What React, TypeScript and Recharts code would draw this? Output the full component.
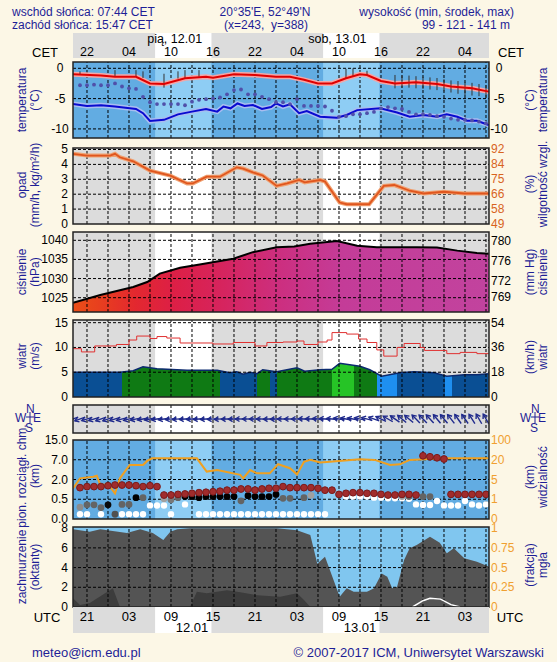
import React from 'react';
import { ComposedChart, Line, Area, Scatter, XAxis, YAxis, ReferenceArea, ReferenceLine, ErrorBar } from 'recharts';

// time axis: hours counted from 19:00 UTC 11.01
const H_MAX = 59.43;
const GRID_H = [2, 5, 8, 11, 14, 17, 20, 23, 26, 29, 32, 35, 38, 41, 44, 47, 50, 53, 56, 59];
const LABEL_H = [2, 8, 14, 20, 26, 32, 38, 44, 50, 56];
const CET_LABELS = ['22', '04', '10', '16', '22', '04', '10', '16', '22', '04'];
const UTC_LABELS = ['21', '03', '09', '15', '21', '03', '09', '15', '21', '03'];
const DAY_START = [11.73, 35.73];
const DAY_END = [19.78, 43.78];
const CET_DATES = ['pią, 12.01', 'sob, 13.01'];
const CET_DATE_H = [10.6, 33.6];
const UTC_DATES = ['12.01', '13.01'];
const UTC_DATE_H = [17, 41];

// temperatura
const tempH = [0, 4, 6, 9, 11, 13, 16, 19, 20, 23, 26, 29, 31, 33, 35, 37, 39, 41, 42, 44, 46, 49, 52, 54, 57, 59.4];
const tempV = [-1.0, -1.2, -1.4, -1.4, -2.5, -2.6, -1.65, -1.4, -1.55, -1.0, -1.1, -1.4, -1.4, -1.9, -2.5, -2.5, -1.65, -1.0, -1.1, -2.1, -2.5, -2.3, -2.6, -3.0, -3.3, -3.85];
const spreadH = [1, 6, 9, 10, 13, 15, 16, 18, 39, 40, 42, 46, 47, 48, 49, 50, 51, 52, 53, 54, 55, 56, 57, 58, 59];
const spreadLo = [-1.1, -1.4, -1.4, -1.6, -3.2, -1.7, -1.7, -1.4, -1.7, -1.3, -1.2, -3.3, -3.2, -3.2, -3.3, -3.4, -3.5, -3.6, -3.8, -4.0, -4.2, -4.4, -4.5, -4.6, -4.8];
const spreadHi = [-0.5, -0.3, -0.3, -0.5, -0.9, -0.5, -0.3, -0.3, -0.1, 0.0, -0.4, -1.1, -1.2, -1.2, -1.3, -1.4, -1.5, -1.6, -1.8, -2.0, -2.1, -2.3, -2.4, -2.6, -2.8];
const chillH = [0, 2, 4, 6, 9, 10, 11, 13, 15, 17, 19, 20.6, 21.5, 22.5, 23.5, 24.5, 25.7, 27, 28.3, 29, 30, 31, 32.3, 33.4, 35.3, 37.7, 39.1, 40.6, 43.9, 46.3, 48.1, 50.1, 52, 53.4, 54.9, 56.3, 57.7, 59.4];
const chillV = [-5.9, -6.2, -6.1, -6.3, -6.7, -7.4, -8.7, -8.5, -7.6, -7.15, -6.7, -7.15, -6.3, -6.6, -5.8, -6.2, -6.05, -6.7, -6.4, -5.8, -6.3, -5.95, -7.4, -7.05, -8.0, -8.15, -7.7, -6.9, -6.6, -7.3, -8.0, -7.7, -8.0, -7.6, -8.0, -8.65, -8.65, -9.35];
// hourly, h = 1..59
const dewV = [-2.8, -2.8, -2.7, -2.8, -2.8, -2.5, -3.0, -3.3, -3.4, -4.7, -5.6, -5.9, -5.9, -5.9, -5.9, -6.1, -5.5, -5.2, -5.1, -5.0, -4.8, -4.3, -3.6, -3.5, -4.3, -4.3, -4.7, -5.1, -5.6, -5.6, -5.9, -5.1, -6.2, -6.2, -6.2, -6.3, -7.0, -8.0, -7.9, -7.6, -7.6, -7.4, -7.2, -6.6, -6.4, -6.6, -6.7, -7.2, -7.6, -7.6, -7.7, -7.9, -8.0, -8.3, -8.5, -8.5, -8.6, -8.8, -9.1];

// wilgotnosc
const humH = [0, 2, 5.3, 6, 6.7, 8.6, 11, 13.9, 16.3, 17.1, 19.1, 21, 23.4, 24.3, 25.7, 27.1, 29.1, 30.6, 32.3, 33.1, 35.3, 36, 38.1, 39.1, 42.3, 44.4, 45.9, 48.1, 50.1, 53, 55.9, 59.4];
const humV = [89.5, 88.5, 88.5, 89.5, 87.5, 85.2, 79.8, 76.9, 72.4, 72.4, 76.3, 76.3, 81.7, 81, 78.8, 77, 71, 72.4, 74.4, 73, 74.4, 73.5, 61.4, 60.4, 60.4, 71, 71.5, 68.2, 66.6, 67.6, 66.6, 66.6];
const HUM_TICKS = [49, 57.6, 66.2, 74.8, 83.4, 92];
const HUM_LABELS = ['49', '58', '66', '75', '84', '92'];

// cisnienie
const presH = [0, 3.9, 8.6, 10.6, 12.4, 15.3, 18.1, 22.9, 25.7, 29.1, 31.6, 33.9, 37.7, 40.6, 43.4, 49.1, 52, 54.9, 57.7, 59.4];
const presV = [1023.7, 1025.7, 1027.8, 1029.1, 1031.3, 1032.8, 1033.7, 1035.2, 1036.9, 1038.2, 1038.4, 1039.1, 1039.8, 1038.6, 1038.2, 1038.2, 1038.1, 1037.3, 1036.7, 1036.5];
const presStops = [0, 0.06, 0.15, 0.24, 0.36, 0.5, 0.65, 1];
const presColors = ['#ea4f18', '#e8401e', '#e3282f', '#dd1f45', '#d6245e', '#cc2f80', '#c43c98', '#c2439e'];

// wiatr
const windH = [0, 6.7, 8.6, 10, 12, 16.3, 20.6, 22.4, 23.4, 24.3, 25.3, 26.3, 27.1, 29.1, 32, 33.1, 35.3, 37, 38.1, 41, 42.4, 44.1, 46.7, 48.7, 51.6, 53.4, 55.9, 57.7, 59.4];
const windV = [5.0, 5.0, 5.3, 6.1, 5.7, 5.4, 5.4, 4.9, 5.1, 4.6, 5.0, 4.7, 5.5, 5.1, 5.9, 5.2, 5.5, 5.6, 6.8, 6.2, 5.5, 4.2, 4.9, 5.1, 4.9, 4.2, 4.5, 4.5, 4.7];
const windSegH = [0, 7, 21, 26.3, 28.1, 29.1, 37, 40.1, 43.4, 46.3, 53.1, 54.1, 59.4];
const windSegC = ['#0a4f94', '#0f7a14', '#0a4f94', '#0f7a14', '#0a4f94', '#0f7a14', '#26c426', '#0f7a14', '#1e8ff0', '#0a4f94', '#1e8ff0', '#0a4f94'];
const gustH = [0, 1.2, 3.1, 6.2, 8, 9.1, 11, 12, 13.4, 15.3, 20, 22.9, 26, 27.7, 30, 32, 33, 35, 36.3, 37, 39.1, 40.8, 42, 43.4, 44.4, 46.3, 47.3, 49.6, 50.2, 53.4, 55.3, 57.7, 59.4];
const gustV = [9.75, 9.1, 10.3, 10.6, 11.5, 12.3, 11.8, 12.2, 11.9, 10.9, 10.7, 11.0, 10.3, 11.0, 11.1, 11.3, 10.6, 11.1, 11.5, 13.0, 12.7, 11.7, 11.0, 9.5, 8.25, 10.0, 10.8, 10.0, 9.4, 8.75, 9.0, 8.75, 8.75];
// kierunek (skad wieje), h = 0..59
const windDir = [70, 70, 72, 72, 70, 70, 72, 75, 75, 78, 80, 80, 82, 82, 84, 84, 85, 85, 85, 85, 86, 86, 88, 88, 90, 90, 90, 90, 88, 88, 90, 90, 90, 92, 92, 95, 95, 95, 98, 100, 100, 102, 105, 110, 115, 120, 125, 130, 130, 135, 135, 138, 140, 140, 142, 145, 145, 148, 150, 150];

// chmury (km), hourly h = 1..59, null = brak
const CH_BREAKS = [0, 0.5, 2, 7, 15];
const CH_LABELS = ['0.0', '0.5', '2.0', '7.0', '15.0'];
const VIS_BREAKS = [0, 1, 5, 20, 100];
const redCloud = [1.38, 1.46, 1.46, 1.46, 1.53, 1.58, 1.58, 1.58, 1.53, 1.46, 1.53, 1.46,
  0.82, 0.82, 0.87, 0.9, 0.95, 1.0, 1.03, 1.07, 1.11, 1.19, 1.19, 1.28, 1.28, 1.19, 1.28, 1.33, 1.33,
  1.46, 1.38, 1.38, 1.38, 1.38, 1.33, 1.19, 1.19, 0.87, 0.95, 1.0, 1.0, 0.95, 0.95, 0.87, 0.82, 0.82, 0.87, 0.87, 0.82,
  8.6, 8.2, 7.8, 7.3, 0.87, 0.87, 0.87, 0.87, 0.87, 0.87];
const lowCloud = [0.3, 0.36, 0.36, 0.29, 0.36, 0.12, 0.37, 0.37, 0.62, 0.62, null, null, 0.53, 0.49, 0.62, 0.7, 0.7, 0.62, 0.7, 0.7,
  0.7, 0.7, 0.7, 0.46, 0.77, 0.7, 0.7, 0.7, 0.87, 0.57, 0.57, null, 0.62, 0.8, null, null, null, null, null, null,
  null, null, null, null, null, null, 0.7, 0.7, null, 0.7, 0.7, null, null, null, null, null, null, null, null];
const lowShade = [0.3, 0.5, 0.5, 0.5, 0.95, 0.6, 0.5, 0.5, 1, 0.5, 0, 0, 0.2, 0.4, 0.5, 1, 1, 1, 1, 1,
  1, 1, 1, 0.5, 1, 1, 1, 1, 1, 0.5, 0.5, 0, 0.5, 0.2, 0, 0, 0, 0, 0, 0,
  0, 0, 0, 0, 0, 0, 0.2, 0.5, 0, 0.5, 0.5, 0, 0, 0, 0, 0, 0, 0, 0];
const whiteCloud = [0.12, 0.12, null, 0.12, null, null, 0.12, 0.12, 0.12, 0.12, 0.34, 0.34, 0.34, 0.12, null, 0.37, null, 0.12, 0.12, 0.12,
  0.12, 0.12, 0.12, 0.12, 0.12, 0.12, 0.12, 0.12, 0.12, 0.12, 0.12, 0.12, 0.12, 0.12, 0.12, 0.12, null, null, 0.7, 0.7,
  0.7, 0.7, 0.62, 0.62, 0.57, 0.57, 0.57, 0.53, 0.37, 0.355, 0.355, 0.455, 0.34, 0.34, 0.34, 0.455, 0.37, 0.34, 0.37];
const visH = [0, 1, 2.9, 3.4, 3.9, 4.9, 5.3, 6, 6.7, 8.1, 10, 10.6, 11.3, 17.7, 19.1, 20.6, 23.9, 24.3, 25.3, 26.3, 28.1, 29.3, 31, 32, 33, 33.9, 35.3, 36.7, 41, 43.1, 45.3, 46.7, 48.1, 53, 59.4];
const visKm = [3.2, 5.9, 7.1, 7.9, 3.9, 4.0, 3.5, 2.2, 5.9, 16, 16, 19.1, 25.6, 25.6, 11, 12.2, 8.5, 5.9, 12.2, 9.7, 9.7, 16.6, 13.6, 8.9, 18.5, 19.9, 18, 18.5, 21.6, 19.9, 16, 16.5, 19.9, 25.6, 25.6];

// zachmurzenie (oktanty) i mgla
const ccH = [0, 2.4, 3.9, 7.7, 9.6, 11.4, 12.9, 13.9, 14.9, 16.7, 29.1, 32, 33.9, 34.9, 36, 36.7, 38.1, 39.1, 40.1, 42, 43, 44.1, 44.9, 45.6, 46.3, 47.3, 48.1, 49.1, 51, 52.4, 53.4, 54.4, 55.9, 57.7, 59.4];
const ccV = [7.9, 7.65, 7.9, 7.5, 7.9, 7.5, 6.8, 7.65, 7.9, 8.0, 8.0, 7.8, 7.3, 4.4, 5.1, 3.75, 1.05, 1.9, 1.55, 1.55, 1.9, 3.4, 3.08, 1.9, 2.06, 4.77, 5.96, 6.3, 7.14, 6.53, 5.45, 5.96, 4.94, 4.6, 4.1];
const lcH = [0, 1, 2.4, 5.7, 6.7, 16.7, 17.7, 19.1, 22, 23.9, 26.3, 29.6, 32, 33, 33.9, 59.4];
const lcV = [0.9, 0.2, 0.4, 1.9, 0, 0, 1.55, 1.4, 1.7, 1.5, 1.2, 1.05, 1.4, 0.7, 0, 0];
const fogH = [48.5, 50, 51, 52.5, 54, 55.3];
const fogV = [0, 0.08, 0.11, 0.1, 0.03, 0];

const W = 557;
const ML = 33;
const MR = 28;
const PAD = 8;
const FONT = '"Liberation Sans", Arial, sans-serif';
const NAVY = '#1e1e96';
const BORDER = '#222';

const pts = (hs: number[], vs: (number | null)[]) => hs.map((h, i) => ({ h, v: vs[i] }));
const hourly = (vs: (number | null)[]) => vs.map((v, i) => ({ h: i + 1, v })).filter((d) => d.v != null);
const toIdx = (v: number, br: number[]) => {
  for (let i = 0; i < br.length - 1; i++) if (v <= br[i + 1]) return i + (v - br[i]) / (br[i + 1] - br[i]);
  return br.length - 1;
};

const tick = (opts: { x?: number; anchor?: string; color?: string; fmt?: (v: number) => string }) => (p: any) => (
  <text x={opts.x ?? 68} y={p.y} dy={4} textAnchor={opts.anchor ?? 'end'} fontSize={12} fill={opts.color ?? '#000'} fontFamily={FONT}>
    {opts.fmt ? opts.fmt(p.payload.value) : p.payload.value}
  </text>
);

const bg = (night: string, day: string) => [
  <ReferenceArea key="bgn" x1={0} x2={H_MAX} fill={night} fillOpacity={1} stroke="none" zIndex={-300} />,
  ...DAY_START.map((s, i) => (
    <ReferenceArea key={'bgd' + i} x1={s} x2={DAY_END[i]} fill={day} fillOpacity={1} stroke="none" zIndex={-250} />
  )),
];
const frame = () => (
  <ReferenceArea key="frame" x1={0} x2={H_MAX} fill="none" stroke={BORDER} strokeWidth={1.5} zIndex={900} />
);
const grid = (yTicks: number[]) => [
  ...GRID_H.map((h) => <ReferenceLine key={'gx' + h} x={h} stroke="#000" strokeDasharray="3 2" strokeWidth={1} zIndex={150} />),
  ...yTicks.map((v) => <ReferenceLine key={'gy' + v} y={v} stroke="#000" strokeDasharray="3 2" strokeWidth={1} zIndex={150} />),
];
const xAxis = () => <XAxis type="number" dataKey="h" domain={[0, H_MAX]} ticks={GRID_H} hide allowDataOverflow />;

const VText = ({ cx, cy, lines, size = 12 }: { cx: number; cy: number; lines: string[]; size?: number }) => (
  <div
    style={{
      position: 'absolute', left: cx, top: cy, transform: 'translate(-50%, -50%) rotate(-90deg)',
      whiteSpace: 'nowrap', textAlign: 'center', lineHeight: '13px', fontSize: size, color: NAVY, fontFamily: FONT,
    }}
  >
    {lines.map((l) => <div key={l}>{l}</div>)}
  </div>
);

const Txt = ({ x, y, children, anchor = 'start', color = NAVY, size = 12 }: any) => (
  <div
    style={{
      position: 'absolute', left: x, top: y, whiteSpace: 'nowrap', fontSize: size, color, fontFamily: FONT, lineHeight: '11px',
      transform: anchor === 'end' ? 'translate(-100%, -50%)' : anchor === 'middle' ? 'translate(-50%, -50%)' : 'translate(0, -50%)',
    }}
  >
    {children}
  </div>
);

const Compass = ({ x, y }: { x: number; y: number }) => (
  <svg style={{ position: 'absolute', left: x, top: y }} width={36} height={36}>
    <g fill={NAVY} fontFamily={FONT} fontSize={12}>
      <text x={12} y={11}>N</text>
      <text x={1} y={20}>W</text>
      <text x={19} y={20}>E</text>
      <text x={11} y={30}>S</text>
    </g>
    <line x1={12} y1={15} x2={20} y2={15} stroke={NAVY} />
    <line x1={16} y1={10} x2={16} y2={21} stroke={NAVY} />
  </svg>
);

const Arrow = (p: any) => {
  if (p.cx == null) return <g />;
  const a = (p.payload.d * Math.PI) / 180;
  const ux = -Math.sin(a);
  const uy = Math.cos(a);
  const L = 5.5;
  const x1 = p.cx - ux * L, y1 = p.cy - uy * L, x2 = p.cx + ux * L, y2 = p.cy + uy * L;
  const hx = ux * 4, hy = uy * 4, px = -uy * 2.5, py = ux * 2.5;
  return (
    <g stroke="#1f2a8c" strokeWidth={1.4} fill="none">
      <line x1={x1} y1={y1} x2={x2} y2={y2} />
      <polyline points={`${x2 - hx + px},${y2 - hy + py} ${x2},${y2} ${x2 - hx - px},${y2 - hy - py}`} />
    </g>
  );
};

const dot = (r: number, fill: string, stroke = 'none') => (p: any) =>
  p.cx == null ? <g /> : <circle cx={p.cx} cy={p.cy} r={r} fill={fill} stroke={stroke} />;
const shadeDot = (p: any) => {
  if (p.cx == null) return <g />;
  const g = Math.round(200 * (1 - p.payload.s));
  return <circle cx={p.cx} cy={p.cy} r={3.4} fill={`rgb(${g},${g},${g})`} />;
};
const noDot = () => <g />;
const textMark = (size: number) => (p: any) =>
  p.cx == null ? <g /> : (
    <text x={p.cx} y={p.cy} dy="0.35em" textAnchor={p.payload.a} fontSize={size} fill="#000" fontFamily={FONT}>
      {p.payload.t}
    </text>
  );

// pasek czasu: etykiety godzin (v = hourV) i dat (v = dateV) w skali 0..1 pasa
const TimeBand = ({ top, height, labels, hourV, dates, dateH, dateV, dateAnchor, size }: any) => {
  const hourData = LABEL_H.map((h, i) => ({ h, v: hourV, t: labels[i], a: 'middle' }));
  const dateData = dates.map((t: string, i: number) => ({ h: dateH[i], v: dateV, t, a: dateAnchor }));
  return (
    <div style={{ position: 'absolute', left: 0, top: top - PAD }}>
      <ComposedChart width={W} height={height + 2 * PAD} margin={{ top: PAD, bottom: PAD, left: ML + 40, right: MR + 40 }}>
        <XAxis type="number" dataKey="h" domain={[0, H_MAX]} hide allowDataOverflow />
        <YAxis hide domain={[0, 1]} allowDataOverflow />
        {bg('#dcdcdc', '#ffffff')}
        <Scatter data={hourData} dataKey="v" shape={textMark(size)} isAnimationActive={false} />
        <Scatter data={dateData} dataKey="v" shape={textMark(size)} isAnimationActive={false} />
      </ComposedChart>
    </div>
  );
};

export default function App() {
  const presGrad = presStops.map((o, i) => <stop key={i} offset={o} stopColor={presColors[i]} />);
  const span = windH[windH.length - 1] - windH[0];
  const windGrad = windSegC.flatMap((c, i) => [
    <stop key={'a' + i} offset={(windSegH[i] - windH[0]) / span} stopColor={c} />,
    <stop key={'b' + i} offset={Math.min(1, (windSegH[i + 1] - windH[0]) / span)} stopColor={c} />,
  ]);
  const dirData = windDir.map((d, i) => ({ h: i, v: 0, d }));
  const lowData = lowCloud
    .map((v, i) => ({ h: i + 1, v: v == null ? null : toIdx(v, CH_BREAKS), s: lowShade[i] }))
    .filter((d) => d.v != null);
  const spreadData = spreadH.map((h, i) => {
    const mid = (spreadLo[i] + spreadHi[i]) / 2;
    return { h, v: mid, e: [mid - spreadLo[i], spreadHi[i] - mid] };
  });

  return (
    <div style={{ position: 'absolute', left: 0, top: 0, width: W, height: 662, background: '#fcf7e6', overflow: 'hidden', fontFamily: FONT }}>
      {/* naglowek */}
      <Txt x={12} y={11.5}>wschód słońca: 07:44 CET</Txt>
      <Txt x={12} y={24.5}>zachód słońca: 15:47 CET</Txt>
      <Txt x={265} y={11.5} anchor="middle">20°35'E, 52°49'N</Txt>
      <Txt x={266} y={24.5} anchor="middle">(x=243,&nbsp; y=388)</Txt>
      <Txt x={514} y={11.5} anchor="end">wysokość (min, środek, max)</Txt>
      <Txt x={510} y={24.5} anchor="end">99 - 121 - 141 m</Txt>

      <TimeBand top={33} height={25} labels={CET_LABELS} hourV={0.24} dates={CET_DATES} dateH={CET_DATE_H} dateV={0.78} dateAnchor="start" size={12.5} />
      <Txt x={45} y={52} anchor="middle" color="#000" size={13}>CET</Txt>
      <Txt x={511} y={52} anchor="middle" color="#000" size={13}>CET</Txt>

      {/* temperatura */}
      <div style={{ position: 'absolute', left: 0, top: 62 - PAD }}>
        <ComposedChart width={W} height={76 + 2 * PAD} margin={{ top: PAD, bottom: PAD, left: ML, right: MR }}>
          {xAxis()}
          <YAxis width={40} domain={[-11.5, 1.04]} ticks={[-10, -5, 0]} interval={0} allowDataOverflow axisLine={false} tickLine={false} tick={tick({ x: 60, anchor: 'middle' })} />
          <YAxis yAxisId="r" orientation="right" width={40} domain={[-11.5, 1.04]} ticks={[-10, -5, 0]} interval={0} allowDataOverflow axisLine={false} tickLine={false} tick={tick({ x: 499, anchor: 'middle' })} />
          {bg('#62ace2', '#8ecdf4')}
          {grid([-10, -5, 0])}
          <Line data={pts(chillH, chillV)} dataKey="v" stroke="#a9bdf0" strokeWidth={5} dot={false} isAnimationActive={false} />
          <Line data={pts(chillH, chillV)} dataKey="v" stroke="#0a0ad0" strokeWidth={2} dot={false} isAnimationActive={false} />
          <Line data={pts(tempH, tempV)} dataKey="v" stroke="#f4a6a6" strokeWidth={5} dot={false} isAnimationActive={false} />
          <Scatter data={spreadData} dataKey="v" shape={noDot} isAnimationActive={false}>
            <ErrorBar dataKey="e" direction="y" width={0} stroke="#333" strokeWidth={1} />
          </Scatter>
          <Line data={pts(tempH, tempV)} dataKey="v" stroke="#e00000" strokeWidth={2} dot={false} isAnimationActive={false} />
          <Scatter data={hourly(dewV)} dataKey="v" shape={dot(1.9, '#5050aa')} isAnimationActive={false} />
          {frame()}
        </ComposedChart>
      </div>
      <VText cx={29} cy={100} lines={['temperatura', '(°C)']} />
      <VText cx={537} cy={100} lines={['(°C)', 'temperatura']} />

      {/* opad / wilgotnosc */}
      <div style={{ position: 'absolute', left: 0, top: 148 - PAD }}>
        <ComposedChart width={W} height={76 + 2 * PAD} margin={{ top: PAD, bottom: PAD, left: ML, right: MR }}>
          {xAxis()}
          <YAxis width={40} domain={[0, 5.1]} ticks={[0, 1, 2, 3, 4, 5]} interval={0} allowDataOverflow axisLine={false} tickLine={false} tick={tick({})} />
          <YAxis yAxisId="r" orientation="right" width={40} domain={[49, 92.86]} ticks={HUM_TICKS} interval={0} allowDataOverflow axisLine={false} tickLine={false}
            tick={tick({ x: 491, anchor: 'start', color: '#d8641e', fmt: (v) => HUM_LABELS[HUM_TICKS.indexOf(v)] })} />
          {bg('#dcdcdc', '#ffffff')}
          {grid([1, 2, 3, 4, 5])}
          <Line yAxisId="r" data={pts(humH, humV)} dataKey="v" stroke="#f0a070" strokeWidth={4} dot={false} isAnimationActive={false} />
          <Line yAxisId="r" data={pts(humH, humV)} dataKey="v" stroke="#e0561e" strokeWidth={1.8} dot={false} isAnimationActive={false} />
          {frame()}
        </ComposedChart>
      </div>
      <VText cx={29} cy={185} lines={['opad', '(mm/h, kg/m²/h)']} />
      <VText cx={537} cy={184} lines={['(%)', 'wilgotność wzgl.']} />

      {/* cisnienie */}
      <div style={{ position: 'absolute', left: 0, top: 232 - PAD }}>
        <ComposedChart width={W} height={80 + 2 * PAD} margin={{ top: PAD, bottom: PAD, left: ML, right: MR }}>
          <defs>
            <linearGradient id="presGrad" x1="0" y1="0" x2="1" y2="0">{presGrad}</linearGradient>
          </defs>
          {xAxis()}
          <YAxis width={40} domain={[1021.26, 1042.17]} ticks={[1025, 1030, 1035, 1040]} interval={0} allowDataOverflow axisLine={false} tickLine={false} tick={tick({})} />
          <YAxis yAxisId="r" orientation="right" width={40} domain={[766.0, 781.68]} ticks={[769, 772, 776, 780]} interval={0} allowDataOverflow axisLine={false} tickLine={false} tick={tick({ x: 491, anchor: 'start' })} />
          {bg('#dcdcdc', '#ffffff')}
          <Area data={pts(presH, presV)} dataKey="v" baseValue="dataMin" fill="url(#presGrad)" fillOpacity={1} stroke="none" isAnimationActive={false} />
          {grid([1025, 1030, 1035, 1040])}
          <Line data={pts(presH, presV)} dataKey="v" stroke="#000" strokeWidth={2} dot={false} isAnimationActive={false} />
          {frame()}
        </ComposedChart>
      </div>
      <VText cx={29} cy={272} lines={['ciśnienie', '(hPa)']} />
      <VText cx={537} cy={272} lines={['(mm Hg)', 'ciśnienie']} />

      {/* wiatr */}
      <div style={{ position: 'absolute', left: 0, top: 320 - PAD }}>
        <ComposedChart width={W} height={77 + 2 * PAD} margin={{ top: PAD, bottom: PAD, left: ML, right: MR }}>
          <defs>
            <linearGradient id="windGrad" x1="0" y1="0" x2="1" y2="0">{windGrad}</linearGradient>
          </defs>
          {xAxis()}
          <YAxis width={40} domain={[0, 15.54]} ticks={[0, 5, 10, 15]} interval={0} allowDataOverflow axisLine={false} tickLine={false} tick={tick({})} />
          <YAxis yAxisId="r" orientation="right" width={40} domain={[0, 55.94]} ticks={[0, 18, 36, 54]} interval={0} allowDataOverflow axisLine={false} tickLine={false} tick={tick({ x: 491, anchor: 'start' })} />
          {bg('#dcdcdc', '#ffffff')}
          <Area data={pts(windH, windV)} dataKey="v" baseValue="dataMin" fill="url(#windGrad)" fillOpacity={1} stroke="#0b2a6e" strokeWidth={1.5} isAnimationActive={false} />
          {grid([5, 10, 15])}
          <Line data={pts(gustH, gustV)} type="stepAfter" dataKey="v" stroke="#e03030" strokeWidth={1} dot={false} isAnimationActive={false} />
          {frame()}
        </ComposedChart>
      </div>
      <VText cx={29} cy={356} lines={['wiatr', '(m/s)']} />
      <VText cx={537} cy={357} lines={['(km/h)', 'wiatr']} />

      {/* kierunek wiatru */}
      <div style={{ position: 'absolute', left: 0, top: 405 - PAD }}>
        <ComposedChart width={W} height={28 + 2 * PAD} margin={{ top: PAD, bottom: PAD, left: ML + 40, right: MR + 40 }}>
          {xAxis()}
          <YAxis hide domain={[-1, 1]} />
          {bg('#dcdcdc', '#ffffff')}
          {grid([])}
          <Scatter data={dirData} dataKey="v" shape={Arrow} isAnimationActive={false} />
          {frame()}
        </ComposedChart>
      </div>
      <Compass x={14} y={402} />
      <Compass x={519} y={402} />

      {/* chmury / widzialnosc */}
      <div style={{ position: 'absolute', left: 0, top: 440 - PAD }}>
        <ComposedChart width={W} height={79 + 2 * PAD} margin={{ top: PAD, bottom: PAD, left: ML, right: MR }}>
          {xAxis()}
          <YAxis width={40} domain={[0, 4]} ticks={[0, 1, 2, 3, 4]} interval={0} allowDataOverflow axisLine={false} tickLine={false} tick={tick({ fmt: (v) => CH_LABELS[v] })} />
          <YAxis yAxisId="r" orientation="right" width={40} domain={[0, 4]} ticks={[0, 1, 2, 3, 4]} interval={0} allowDataOverflow axisLine={false} tickLine={false}
            tick={tick({ x: 491, anchor: 'start', color: '#f0a030', fmt: (v) => String(VIS_BREAKS[v]) })} />
          {bg('#62ace2', '#8ecdf4')}
          {grid([1, 2, 3])}
          <Line data={visH.map((h, i) => ({ h, v: toIdx(visKm[i], VIS_BREAKS) }))} dataKey="v" stroke="#f0a020" strokeWidth={2} dot={false} isAnimationActive={false} />
          <Scatter data={hourly(whiteCloud.map((v) => (v == null ? null : toIdx(v, CH_BREAKS))))} dataKey="v" shape={dot(3.2, '#ffffff')} isAnimationActive={false} />
          <Scatter data={lowData} dataKey="v" shape={shadeDot} isAnimationActive={false} />
          <Scatter data={hourly(redCloud.map((v) => (v == null ? null : toIdx(v, CH_BREAKS))))} dataKey="v" shape={dot(3.4, '#a02c2c', '#7a1a1a')} isAnimationActive={false} />
          {frame()}
        </ComposedChart>
      </div>
      <VText cx={29} cy={476} lines={['pion. rozciągł. chm.', '(km)']} />
      <VText cx={537} cy={477} lines={['(km)', 'widzialność']} />

      {/* zachmurzenie / mgla */}
      <div style={{ position: 'absolute', left: 0, top: 527 - PAD }}>
        <ComposedChart width={W} height={80 + 2 * PAD} margin={{ top: PAD, bottom: PAD, left: ML, right: MR }}>
          {xAxis()}
          <YAxis width={40} domain={[0, 8.12]} ticks={[0, 2, 4, 6, 8]} interval={0} allowDataOverflow axisLine={false} tickLine={false} tick={tick({})} />
          <YAxis yAxisId="r" orientation="right" width={40} domain={[0, 1.015]} ticks={[0, 0.25, 0.5, 0.75, 1]} interval={0} allowDataOverflow axisLine={false} tickLine={false}
            tick={tick({ x: 491, anchor: 'start', color: '#f0a030' })} />
          <ReferenceArea x1={0} x2={H_MAX} fill="#80c6ef" fillOpacity={1} stroke="none" zIndex={-300} />
          <Area data={pts(ccH, ccV)} dataKey="v" baseValue="dataMin" fill="#545454" fillOpacity={1} stroke="none" isAnimationActive={false} />
          <Area data={pts(lcH, lcV)} dataKey="v" baseValue="dataMin" fill="#3c3c3c" fillOpacity={1} stroke="none" isAnimationActive={false} />
          {grid([2, 4, 6])}
          <Line yAxisId="r" data={pts(fogH, fogV)} dataKey="v" stroke="#ffffff" strokeWidth={1.5} dot={false} isAnimationActive={false} />
          {frame()}
        </ComposedChart>
      </div>
      <VText cx={29} cy={567} lines={['zachmurzenie', '(oktanty)']} />
      <VText cx={537} cy={565} lines={['(frakcja)', 'mgła']} />

      <TimeBand top={607} height={26} labels={UTC_LABELS} hourV={0.62} dates={UTC_DATES} dateH={UTC_DATE_H} dateV={0.2} dateAnchor="middle" size={13} />
      <Txt x={47} y={617} anchor="middle" color="#000" size={13}>UTC</Txt>
      <Txt x={510} y={617} anchor="middle" color="#000" size={13}>UTC</Txt>

      <Txt x={32} y={652} size={13}>meteo@icm.edu.pl</Txt>
      <Txt x={544} y={652} anchor="end" size={13}>© 2007-2017 ICM, Uniwersytet Warszawski</Txt>
    </div>
  );
}
